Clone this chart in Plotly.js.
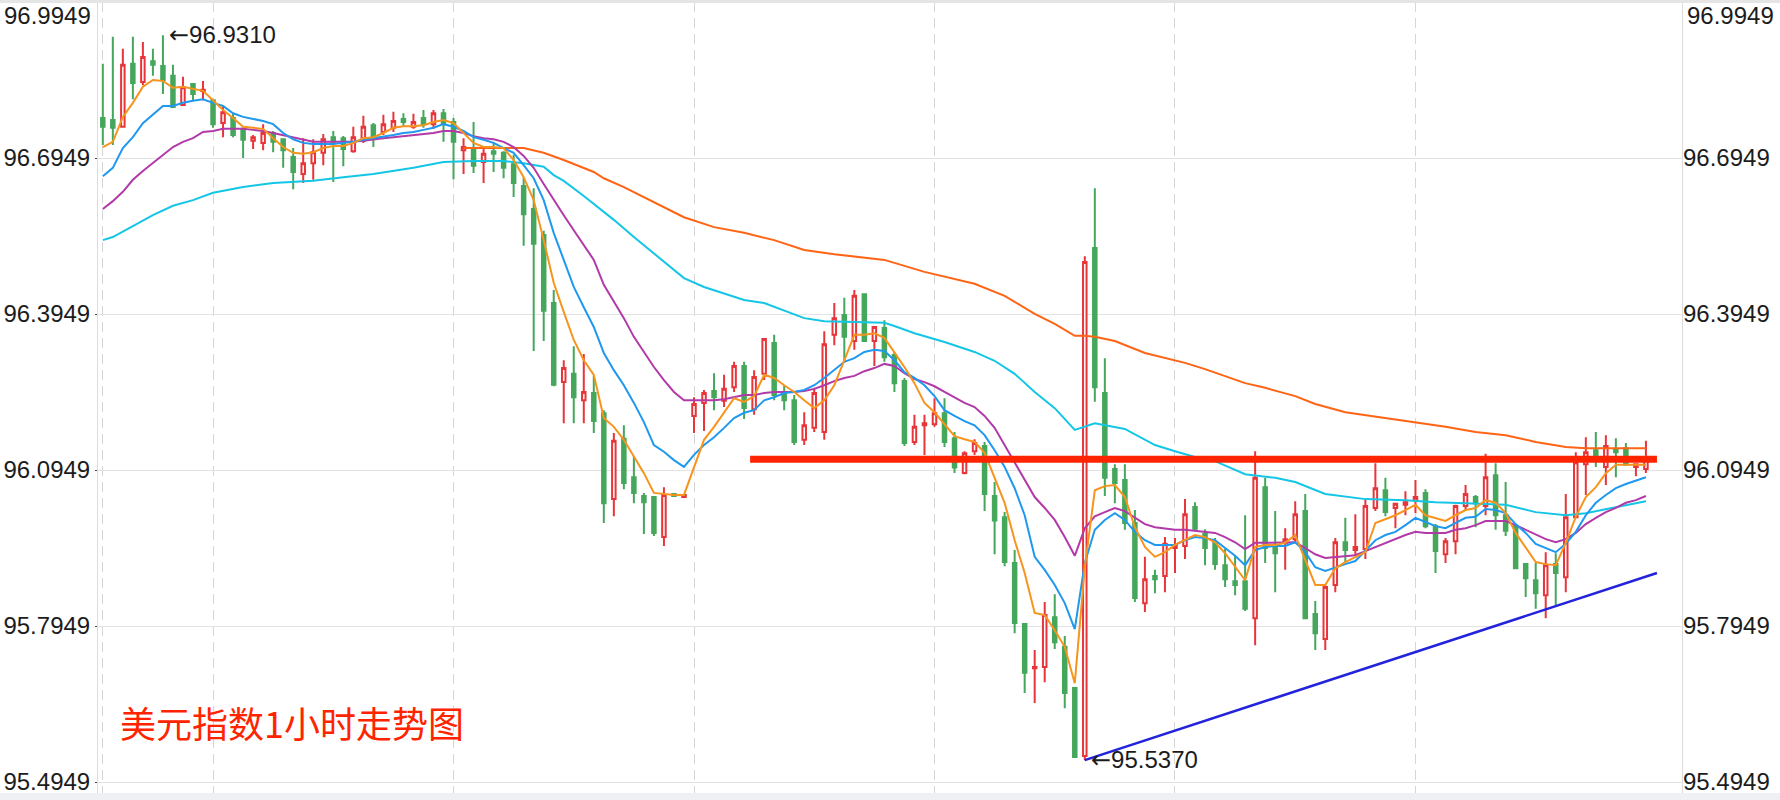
<!DOCTYPE html>
<html>
<head>
<meta charset="utf-8">
<script src="https://cdn.plot.ly/plotly-3.0.1.min.js"></script>
<style>
html,body{margin:0;padding:0;background:#fff;}
#chart{width:1780px;height:800px;}
</style>
</head>
<body>
<div id="chart"></div>
<script>
// ---- candle data (hourly) ----
const open = [
96.772,96.768,96.755,96.876,96.841,96.881,96.872,96.853,96.797,96.837,
96.824,96.806,96.762,96.772,96.751,96.728,96.724,96.743,96.731,96.697,
96.664,96.685,96.705,96.735,96.733,96.708,96.728,96.758,96.745,96.753,
96.770,96.755,96.772,96.760,96.781,96.764,96.710,96.714,96.687,96.708,
96.705,96.683,96.641,96.597,96.547,96.416,96.264,96.280,96.229,96.243,
96.204,96.039,96.155,96.081,96.045,96.043,95.966,96.049,96.043,96.199,
96.224,96.247,96.228,96.254,96.295,96.212,96.280,96.339,96.245,96.229,
96.153,96.176,96.168,96.355,96.393,96.343,96.433,96.343,96.368,96.316,
96.266,96.149,96.181,96.183,96.204,96.156,96.089,96.131,96.141,96.045,
96.004,95.916,95.799,95.714,95.716,95.812,95.755,95.676,95.545,96.522,
96.243,96.097,96.076,95.993,95.839,95.891,95.891,95.945,95.949,96.024,
95.972,95.955,95.912,95.881,95.881,95.810,96.062,95.945,95.955,95.962,
96.016,95.818,95.770,95.874,95.956,95.941,95.943,96.022,96.056,96.022,
96.028,96.037,96.051,95.987,95.933,95.958,96.026,96.043,96.026,96.085,
96.008,95.987,95.914,95.883,95.854,95.914,95.889,96.004,96.106,96.133,
96.101,96.135,96.137,96.101,96.097];
const high = [
96.876,96.928,96.905,96.928,96.918,96.905,96.931,96.874,96.851,96.838,
96.843,96.807,96.793,96.781,96.753,96.739,96.760,96.747,96.732,96.714,
96.733,96.731,96.741,96.747,96.737,96.755,96.776,96.762,96.778,96.784,
96.781,96.780,96.787,96.787,96.789,96.772,96.733,96.764,96.716,96.724,
96.708,96.701,96.658,96.637,96.555,96.441,96.306,96.333,96.318,96.276,
96.210,96.166,96.181,96.122,96.051,96.045,96.062,96.051,96.049,96.235,
96.249,96.281,96.278,96.303,96.303,96.287,96.349,96.355,96.258,96.239,
96.206,96.253,96.362,96.416,96.426,96.441,96.434,96.371,96.383,96.322,
96.272,96.201,96.201,96.233,96.233,96.168,96.131,96.154,96.149,96.072,
96.014,95.941,95.799,95.749,95.841,95.856,95.776,95.676,96.506,96.637,
96.310,96.106,96.106,96.018,95.928,95.903,95.966,95.964,96.039,96.033,
95.981,95.964,95.943,95.929,96.008,96.131,96.080,96.016,95.983,96.035,
96.049,95.843,95.874,95.964,96.003,96.010,96.039,96.108,96.080,96.031,
96.054,96.076,96.058,95.991,95.964,96.028,96.066,96.047,96.126,96.108,
96.072,95.988,95.916,95.916,95.937,95.935,96.049,96.129,96.158,96.168,
96.162,96.156,96.147,96.108,96.151];
const low = [
96.720,96.720,96.753,96.808,96.835,96.853,96.818,96.791,96.795,96.806,
96.806,96.753,96.735,96.735,96.695,96.712,96.710,96.706,96.676,96.635,
96.647,96.653,96.681,96.649,96.679,96.705,96.724,96.716,96.739,96.745,
96.755,96.751,96.753,96.751,96.726,96.654,96.664,96.666,96.647,96.668,
96.656,96.620,96.526,96.324,96.343,96.256,96.185,96.185,96.185,96.166,
95.993,96.006,96.058,96.031,95.972,95.968,95.949,96.043,96.043,96.166,
96.170,96.210,96.216,96.245,96.193,96.201,96.268,96.229,96.210,96.143,
96.143,96.168,96.153,96.335,96.303,96.326,96.341,96.295,96.303,96.245,
96.141,96.143,96.124,96.178,96.139,96.089,96.087,96.124,96.016,95.933,
95.910,95.781,95.666,95.647,95.687,95.751,95.637,95.541,95.537,96.226,
96.045,96.031,95.980,95.841,95.822,95.858,95.860,95.897,95.924,95.978,
95.912,95.903,95.870,95.854,95.824,95.758,95.916,95.860,95.903,95.954,
95.808,95.749,95.749,95.860,95.916,95.931,95.924,96.016,96.006,95.983,
96.008,96.012,95.983,95.897,95.916,95.933,96.018,95.985,96.008,95.980,
95.968,95.904,95.851,95.828,95.810,95.835,95.860,96.003,96.047,96.101,
96.066,96.081,96.103,96.083,96.089];
const close = [
96.755,96.753,96.874,96.839,96.889,96.874,96.845,96.793,96.831,96.818,
96.826,96.760,96.783,96.739,96.730,96.735,96.743,96.726,96.710,96.668,
96.685,96.706,96.731,96.726,96.712,96.735,96.755,96.735,96.760,96.766,
96.764,96.764,96.760,96.781,96.762,96.726,96.716,96.680,96.703,96.703,
96.676,96.647,96.587,96.530,96.401,96.259,96.291,96.235,96.245,96.189,
96.031,96.151,96.070,96.051,96.033,95.974,96.047,96.045,96.047,96.222,
96.243,96.235,96.251,96.295,96.214,96.274,96.347,96.239,96.229,96.149,
96.181,96.243,96.337,96.387,96.351,96.430,96.343,96.370,96.312,96.262,
96.147,96.178,96.185,96.204,96.149,96.100,96.127,96.147,96.049,95.998,
95.918,95.801,95.705,95.716,95.816,95.764,95.666,95.543,96.495,96.254,
96.080,96.070,95.993,95.849,95.885,95.885,95.953,95.951,96.010,95.982,
95.945,95.914,95.885,95.874,95.828,96.080,95.945,95.935,95.962,96.010,
95.810,95.781,95.870,95.956,95.941,95.947,96.026,96.060,96.014,96.030,
96.033,96.043,95.987,95.939,95.958,96.026,96.049,96.031,96.081,96.008,
95.978,95.906,95.887,95.858,95.912,95.897,96.004,96.110,96.129,96.124,
96.141,96.129,96.105,96.106,96.114];

// ---- moving averages ----
const ma5 = [
96.716,96.726,96.774,96.801,96.832,96.845,96.843,96.830,96.832,96.828,
96.824,96.806,96.787,96.772,96.755,96.753,96.751,96.733,96.716,96.705,
96.703,96.706,96.714,96.718,96.718,96.724,96.733,96.735,96.743,96.753,
96.756,96.756,96.758,96.764,96.768,96.762,96.743,96.724,96.716,96.716,
96.714,96.691,96.658,96.614,96.537,96.455,96.399,96.345,96.306,96.278,
96.195,96.178,96.153,96.120,96.089,96.051,96.049,96.047,96.047,96.101,
96.153,96.178,96.205,96.233,96.226,96.237,96.278,96.272,96.258,96.245,
96.229,96.214,96.229,96.258,96.306,96.355,96.355,96.358,96.349,96.322,
96.293,96.262,96.224,96.206,96.182,96.160,96.154,96.149,96.128,96.081,
96.032,95.960,95.897,95.820,95.816,95.787,95.755,95.685,95.908,96.056,
96.064,96.066,96.043,95.985,95.947,95.928,95.937,95.951,95.960,95.970,
95.966,95.956,95.935,95.910,95.883,95.947,95.951,95.951,95.955,95.970,
95.922,95.874,95.874,95.906,95.918,95.928,95.937,95.993,96.001,96.008,
96.018,96.028,96.008,96.003,95.997,96.008,96.018,96.022,96.037,96.032,
96.012,95.974,95.945,95.918,95.914,95.912,95.955,96.005,96.043,96.062,
96.089,96.105,96.105,96.105,96.105];
const ma10 = [
96.660,96.676,96.714,96.735,96.762,96.778,96.795,96.795,96.801,96.805,
96.808,96.801,96.795,96.781,96.774,96.770,96.766,96.760,96.743,96.731,
96.724,96.722,96.722,96.722,96.724,96.726,96.730,96.733,96.735,96.739,
96.743,96.745,96.749,96.753,96.760,96.755,96.747,96.735,96.730,96.724,
96.714,96.705,96.681,96.656,96.614,96.551,96.499,96.447,96.408,96.370,
96.320,96.287,96.258,96.224,96.187,96.143,96.130,96.114,96.101,96.124,
96.143,96.158,96.176,96.195,96.205,96.210,96.229,96.235,96.243,96.245,
96.249,96.258,96.272,96.287,96.303,96.310,96.322,96.326,96.324,96.306,
96.283,96.272,96.258,96.237,96.210,96.199,96.189,96.181,96.162,96.133,
96.101,96.060,96.008,95.928,95.903,95.874,95.839,95.789,95.916,95.980,
95.999,96.012,95.999,95.976,95.960,95.951,95.951,95.951,95.960,95.966,
95.964,95.960,95.945,95.930,95.912,95.941,95.947,95.949,95.949,95.956,
95.937,95.908,95.901,95.908,95.914,95.920,95.941,95.960,95.970,95.976,
95.989,96.003,95.995,95.987,95.983,95.993,96.003,96.005,96.020,96.018,
96.012,95.991,95.974,95.953,95.945,95.937,95.953,95.976,96.008,96.032,
96.047,96.060,96.068,96.074,96.081];
const ma20 = [
96.597,96.612,96.630,96.653,96.670,96.685,96.701,96.716,96.726,96.733,
96.745,96.747,96.751,96.751,96.751,96.749,96.747,96.743,96.739,96.735,
96.730,96.726,96.726,96.726,96.726,96.726,96.728,96.731,96.733,96.735,
96.737,96.739,96.741,96.743,96.747,96.747,96.743,96.737,96.733,96.731,
96.726,96.716,96.699,96.676,96.645,96.614,96.585,96.556,96.528,96.499,
96.451,96.418,96.387,96.351,96.322,96.293,96.268,96.245,96.229,96.229,
96.229,96.229,96.231,96.235,96.239,96.239,96.243,96.245,96.245,96.245,
96.247,96.251,96.258,96.266,96.272,96.276,96.285,96.291,96.299,96.295,
96.281,96.270,96.264,96.256,96.245,96.235,96.224,96.216,96.199,96.176,
96.143,96.108,96.076,96.043,96.022,95.999,95.966,95.930,95.983,96.006,
96.014,96.022,96.016,96.003,95.991,95.985,95.982,95.980,95.980,95.978,
95.976,95.974,95.966,95.956,95.943,95.955,95.955,95.955,95.955,95.956,
95.945,95.933,95.926,95.928,95.930,95.931,95.939,95.947,95.955,95.962,
95.970,95.976,95.974,95.974,95.974,95.980,95.983,95.989,95.997,95.997,
95.997,95.989,95.980,95.970,95.962,95.956,95.962,95.974,95.991,96.003,
96.014,96.022,96.032,96.037,96.045];
const ma60X = [0,1,3,5,7,9,11,14,17,21,24,27,31,34,37,40,42,44,45,46,48,50,51,53,55,58,60,62,64,66,70,72,75,78,79,81,84,87,89,91,93,95,97,99,102,105,107,109,111,114,117,119,122,126,130,133,136,140,143,146,148,150,152,154];
const ma60 = [96.537,96.543,96.564,96.585,96.603,96.614,96.628,96.639,96.647,96.651,96.658,96.664,96.676,96.687,96.689,96.689,96.685,96.678,96.662,96.651,96.622,96.591,96.576,96.543,96.512,96.464,96.447,96.435,96.422,96.416,96.387,96.381,96.379,96.378,96.372,96.358,96.341,96.322,96.305,96.280,96.245,96.214,96.172,96.185,96.174,96.143,96.131,96.120,96.112,96.087,96.080,96.072,96.049,96.039,96.037,96.033,96.031,96.028,96.014,96.008,96.012,96.020,96.028,96.035];
const ma120X = [36,40,42,44,46,49,50,52,55,58,61,64,67,70,73,75,78,82,87,90,93,95,97,98,99,101,104,108,110,114,116,119,121,124,128,131,134,137,140,143,146,148,151,154];
const ma120 = [96.714,96.714,96.714,96.705,96.691,96.668,96.656,96.639,96.610,96.581,96.562,96.551,96.537,96.518,96.510,96.506,96.499,96.476,96.453,96.430,96.395,96.376,96.353,96.353,96.351,96.343,96.320,96.301,96.289,96.262,96.253,96.237,96.222,96.206,96.195,96.187,96.178,96.168,96.162,96.149,96.139,96.137,96.137,96.137];

// ---- drawn lines and labels ----
const resistX = [64.6, 155.1];
const resistY = [96.1155, 96.1155];
const trendX = [98, 155.1];
const trendY = [95.537, 95.897];
const yTicks = [95.4949, 95.7949, 96.0949, 96.3949, 96.6949, 96.9949];
const yTickText = ['95.4949', '95.7949', '96.0949', '96.3949', '96.6949', ''];
const topLabel = '96.9949';
const dayStarts = [0, 11, 35, 59, 83, 107, 131];
const highMark = {i: 6, v: 96.9310, text: '96.9310'};
const lowMark = {i: 98, v: 95.5370, text: '95.5370'};
const arrow = '←';
const titleText = '美元指数1小时走势图';

const RED = '#e8353a', GREEN = '#45a75c';
const idx = close.map((_, i) => i);
const yRange = [95.4739, 96.9949];
const tickFont = {family: 'Liberation Sans, Arial, Helvetica, sans-serif', size: 24, color: '#1c1c1c'};
const numFont = {family: 'Liberation Sans, DejaVu Sans, sans-serif', size: 24, color: '#1c1c1c'};
const arrowSpan = '<span style="font-family:DejaVu Sans">' + arrow + '</span>';

function maTrace(x, y, color) {
  return {type: 'scatter', mode: 'lines', x: x, y: y, line: {color: color, width: 2},
          hoverinfo: 'skip', showlegend: false};
}

const traces = [
  {type: 'candlestick', x: idx, open: open, high: high, low: low, close: close,
   increasing: {line: {color: RED, width: 2}, fillcolor: '#ffffff'},
   decreasing: {line: {color: GREEN, width: 2}, fillcolor: GREEN},
   whiskerwidth: 0, hoverinfo: 'skip', showlegend: false},
  maTrace(ma120X, ma120, '#ff6414'),
  maTrace(ma60X, ma60, '#14c6e6'),
  maTrace(idx, ma20, '#b23aa8'),
  maTrace(idx, ma10, '#1f98f0'),
  maTrace(idx, ma5, '#f7941d'),
  {type: 'scatter', mode: 'lines', x: resistX, y: resistY, line: {color: '#ff2400', width: 7},
   hoverinfo: 'skip', showlegend: false},
  {type: 'scatter', mode: 'lines', x: trendX, y: trendY, line: {color: '#2323dc', width: 2.5},
   hoverinfo: 'skip', showlegend: false},
  {type: 'scatter', mode: 'markers', x: [0], y: [96.0], yaxis: 'y2', marker: {opacity: 0},
   hoverinfo: 'skip', showlegend: false}
];

const layout = {
  width: 1780, height: 800,
  margin: {l: 98, r: 98, t: 2, b: 7, pad: 0},
  paper_bgcolor: '#ffffff', plot_bgcolor: '#ffffff',
  showlegend: false, hovermode: false, boxgap: 0.5,
  xaxis: {range: [-0.48, 157.6], tickvals: dayStarts, showticklabels: false, ticks: '',
          showgrid: true, gridcolor: '#d6d6d6', griddash: '10px,6px', gridwidth: 1,
          zeroline: false, showline: false, rangeslider: {visible: false}, fixedrange: true},
  yaxis: {range: yRange, tickvals: yTicks, ticktext: yTickText, tickfont: tickFont,
          ticks: 'outside', ticklen: 2, tickcolor: '#444', showgrid: true, gridcolor: '#e3e3e3',
          zeroline: false, showline: true, linecolor: '#dcdcdc', mirror: true, fixedrange: true},
  yaxis2: {range: yRange, overlaying: 'y', side: 'right', anchor: 'x', tickvals: yTicks,
           ticktext: yTickText, tickfont: tickFont, ticks: '', showgrid: false, zeroline: false,
           showline: false, fixedrange: true},
  shapes: [
    {type: 'rect', xref: 'paper', yref: 'paper', x0: -0.08, x1: 1.08, y0: 0.99874, y1: 1.01,
     fillcolor: '#e5e5e5', line: {width: 0}, layer: 'above'},
    {type: 'rect', xref: 'paper', yref: 'paper', x0: -0.08, x1: 1.08, y0: -0.02, y1: 0,
     fillcolor: '#eef0f4', line: {width: 0}, layer: 'above'}
  ],
  annotations: [
    {xref: 'paper', yref: 'paper', x: 0, y: 1, xanchor: 'right', yanchor: 'middle', xshift: -5, yshift: -13,
     text: topLabel, showarrow: false, font: tickFont},
    {xref: 'paper', yref: 'paper', x: 1, y: 1, xanchor: 'left', yanchor: 'middle', xshift: 3, yshift: -13,
     text: topLabel, showarrow: false, font: tickFont},
    {xref: 'x', yref: 'y', x: highMark.i, y: highMark.v, xanchor: 'left', yanchor: 'middle', xshift: 4,
     text: arrowSpan + highMark.text, showarrow: false, font: numFont},
    {xref: 'x', yref: 'y', x: lowMark.i, y: lowMark.v, xanchor: 'left', yanchor: 'middle', xshift: 4,
     text: arrowSpan + lowMark.text, showarrow: false, font: numFont},
    {xref: 'paper', yref: 'paper', x: 0.0125, y: 0.0898, xanchor: 'left', yanchor: 'middle',
     text: titleText, showarrow: false,
     font: {family: 'Noto Sans CJK SC, sans-serif', size: 36, color: '#ff2400'}}
  ]
};

Plotly.newPlot('chart', traces, layout, {displayModeBar: false, staticPlot: true});
</script>
</body>
</html>
